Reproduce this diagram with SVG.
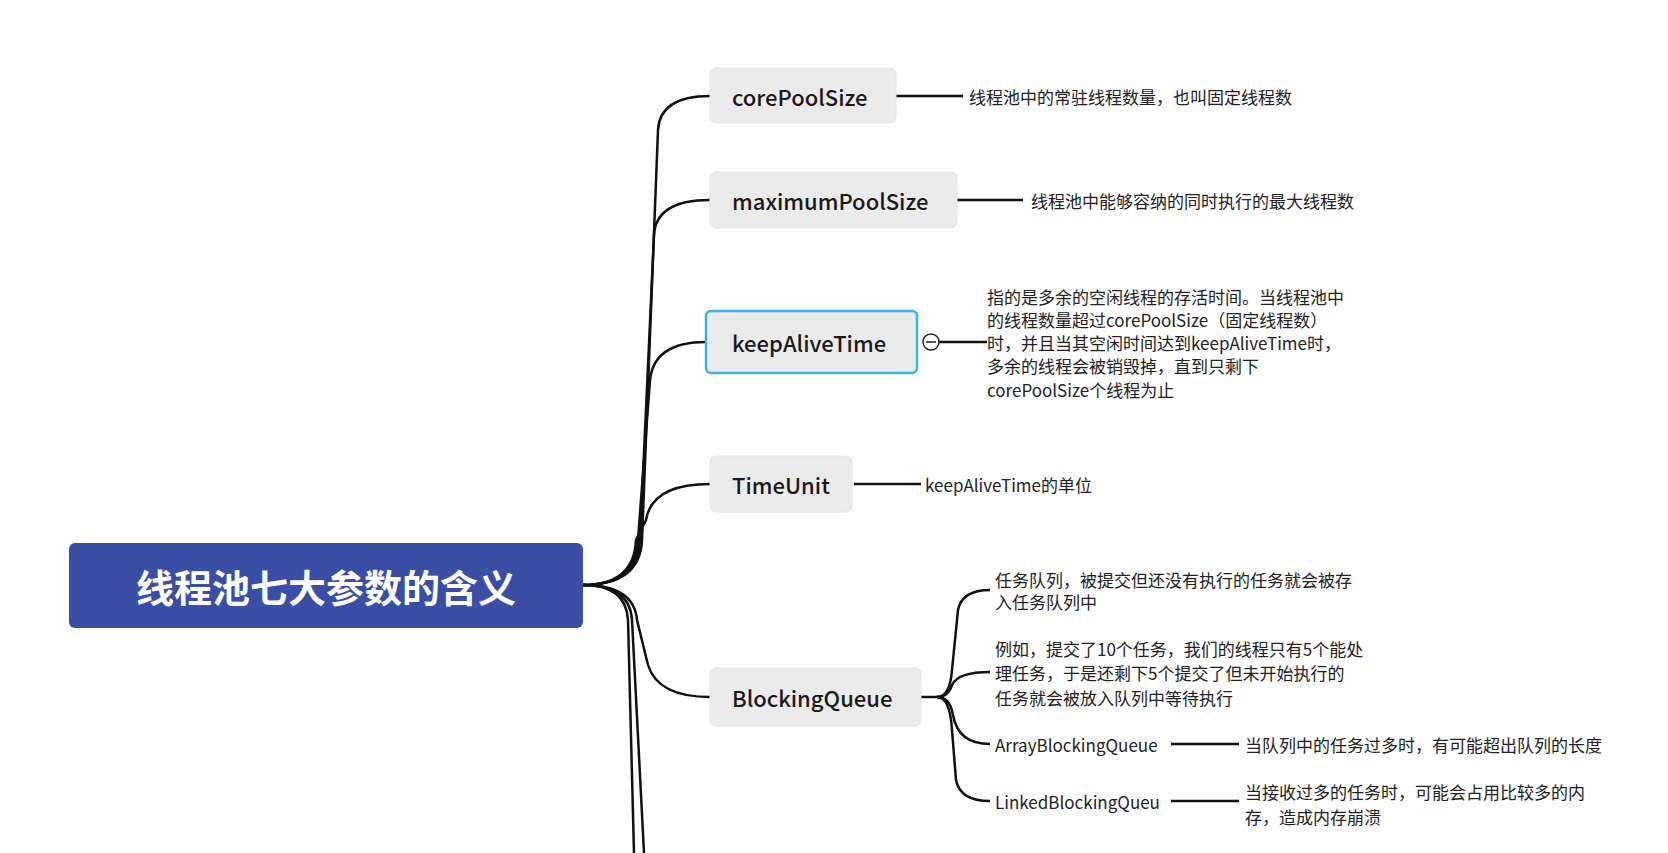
<svg xmlns="http://www.w3.org/2000/svg" width="1668" height="853" viewBox="0 0 1668 853">
<style>
.n{fill:#ebebeb;stroke:#e4e4e4;stroke-width:1}
.nl{font-family:"Noto Sans CJK SC","Noto Sans",sans-serif;font-size:22px;font-weight:500;fill:#1a1a1a;dominant-baseline:central}
.t{font-family:"Noto Sans CJK SC","Noto Sans",sans-serif;font-size:17px;fill:#222;dominant-baseline:central}
.c{fill:none;stroke:#111;stroke-width:2.5}
</style>
<rect width="1668" height="853" fill="#fff"/>
<g id="connectors">
<path class="c" d="M583,585 Q640,585 642,540 L658,130 Q660,96 710,96"/>
<path class="c" d="M583,585 Q638,585 640,540 L654,235 Q656,200 710,200"/>
<path class="c" d="M583,585 Q636,585 638,540 L650,380 Q654,342 706,342"/>
<path class="c" d="M583,585 Q634,585 636,540 L646,520 Q652,484 710,484"/>
<path class="c" d="M583,585 Q634,585 637,620 L648,665 Q658,697 710,697"/>
<path class="c" d="M583,585 Q626,585 628,620 L634,853"/>
<path class="c" d="M583,585 Q630,585 632,620 L644,853"/>
<path class="c" d="M896,96 L963,96"/>
<path class="c" d="M957,200 L1023,200"/>
<path class="c" d="M939,342 L987,342"/>
<path class="c" d="M854,484 L921,484"/>
<path class="c" d="M921,697 L937,697"/>
<path class="c" d="M937,697 Q950,697 952,670 L958,610 Q962,590 990,590"/>
<path class="c" d="M937,697 Q948,697 952,685 Q958,672 990,672"/>
<path class="c" d="M937,697 Q950,697 953,715 Q958,744 990,744"/>
<path class="c" d="M937,697 Q950,697 952,730 L956,780 Q960,801 990,801"/>
<path class="c" d="M1171,744 L1239,744"/>
<path class="c" d="M1171,801 L1239,801"/>
</g>
<g id="root">
<rect x="69" y="543" width="514" height="85" rx="6" fill="#3a4ea5"/>
<text x="326" y="585" text-anchor="middle" dominant-baseline="central" font-family="'Noto Sans CJK SC',sans-serif" font-size="38" font-weight="700" fill="#fff">线程池七大参数的含义</text>
</g>
<g id="corePoolSize">
<rect class="n" x="710" y="68" width="186" height="55" rx="6"/>
<text class="nl" x="732" y="96">corePoolSize</text>
<text class="t" x="969" y="96">线程池中的常驻线程数量，也叫固定线程数</text>
</g>
<g id="maximumPoolSize">
<rect class="n" x="710" y="172" width="247" height="56" rx="6"/>
<text class="nl" x="732" y="200">maximumPoolSize</text>
<text class="t" x="1031" y="200">线程池中能够容纳的同时执行的最大线程数</text>
</g>
<g id="keepAliveTime">
<rect x="706" y="311" width="211" height="62" rx="5" fill="#ebebeb" stroke="#3fb0e8" stroke-width="2.5"/>
<text class="nl" x="732" y="342">keepAliveTime</text>
<circle cx="931" cy="342" r="8" fill="#fff" stroke="#222" stroke-width="1.5"/>
<line x1="926" y1="342" x2="936" y2="342" stroke="#222" stroke-width="1.5"/>
<text class="t" x="987" y="296">指的是多余的空闲线程的存活时间。当线程池中</text>
<text class="t" x="987" y="319">的线程数量超过corePoolSize（固定线程数）</text>
<text class="t" x="987" y="342">时，并且当其空闲时间达到keepAliveTime时，</text>
<text class="t" x="987" y="365">多余的线程会被销毁掉，直到只剩下</text>
<text class="t" x="987" y="389">corePoolSize个线程为止</text>
</g>
<g id="TimeUnit">
<rect class="n" x="710" y="456" width="142" height="56" rx="6"/>
<text class="nl" x="732" y="484">TimeUnit</text>
<text class="t" x="925" y="484">keepAliveTime的单位</text>
</g>
<g id="BlockingQueue">
<rect class="n" x="710" y="668" width="211" height="58" rx="6"/>
<text class="nl" x="732" y="697">BlockingQueue</text>
<text class="t" x="995" y="579">任务队列，被提交但还没有执行的任务就会被存</text>
<text class="t" x="995" y="601">入任务队列中</text>
<text class="t" x="995" y="648">例如，提交了10个任务，我们的线程只有5个能处</text>
<text class="t" x="995" y="672">理任务，于是还剩下5个提交了但未开始执行的</text>
<text class="t" x="995" y="697">任务就会被放入队列中等待执行</text>
<text class="t" x="995" y="744">ArrayBlockingQueue</text>
<text class="t" x="1245" y="744">当队列中的任务过多时，有可能超出队列的长度</text>
<text class="t" x="995" y="801">LinkedBlockingQueu</text>
<text class="t" x="1245" y="791">当接收过多的任务时，可能会占用比较多的内</text>
<text class="t" x="1245" y="816">存，造成内存崩溃</text>
</g>
</svg>
